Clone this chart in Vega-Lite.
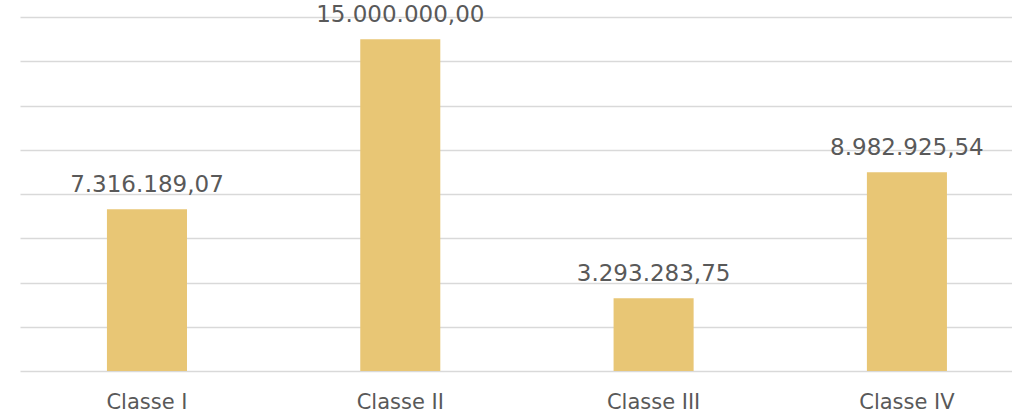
{
  "$schema": "https://vega.github.io/schema/vega-lite/v6.json",
  "width": 992,
  "height": 354,
  "autosize": {"type": "none"},
  "padding": {"left": 20, "top": 17, "right": 0, "bottom": 43},
  "background": "white",
  "config": {
    "view": {"stroke": null},
    "locale": {"number": {"decimal": ",", "thousands": ".", "grouping": [3], "currency": ["", ""]}}
  },
  "data": {
    "values": [
      {"classe": "Classe I", "valor": 7316189.07},
      {"classe": "Classe II", "valor": 15000000.00},
      {"classe": "Classe III", "valor": 3293283.75},
      {"classe": "Classe IV", "valor": 8982925.54}
    ]
  },
  "encoding": {
    "x": {
      "field": "classe",
      "type": "nominal",
      "sort": null,
      "scale": {"paddingInner": 0.684, "paddingOuter": 0.3, "align": 0.572},
      "axis": {
        "title": null,
        "labelAngle": 0,
        "domain": false,
        "ticks": false,
        "labelFont": "DejaVu Sans",
        "labelFontSize": 21,
        "labelColor": "#595959",
        "labelPadding": 20
      }
    },
    "y": {
      "field": "valor",
      "type": "quantitative",
      "scale": {"domain": [0, 16000000], "nice": false},
      "axis": {
        "title": null,
        "labels": false,
        "ticks": false,
        "domain": false,
        "values": [0, 2000000, 4000000, 6000000, 8000000, 10000000, 12000000, 14000000, 16000000],
        "gridColor": "#D9D9D9",
        "gridWidth": 1.5
      }
    }
  },
  "layer": [
    {"mark": {"type": "bar", "color": "#E8C675"}},
    {
      "mark": {"type": "text", "dy": -17, "baseline": "alphabetic", "font": "DejaVu Sans", "fontSize": 23, "color": "#595959"},
      "encoding": {"text": {"field": "valor", "type": "quantitative", "format": ",.2f"}}
    }
  ]
}
